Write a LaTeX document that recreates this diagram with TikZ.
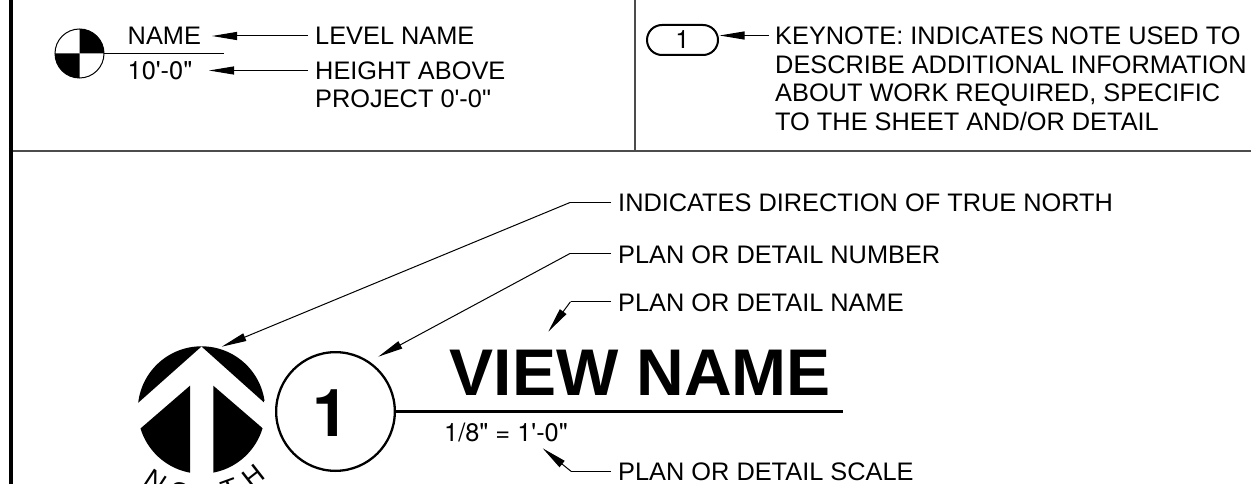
\documentclass[tikz,border=0pt]{standalone}
\usepackage{fontspec}
\setmainfont{Liberation Sans}[Ligatures=TeXOff]
\newfontfamily\heros{TeX Gyre Heros}[Ligatures=TeXOff]
\usetikzlibrary{arrows.meta}
\tikzset{
 lab/.style={anchor=base west,inner sep=0pt,font=\fontsize{25.35}{30}\selectfont},
 leader/.style={line width=1pt,-{Triangle[length=25pt,width=8pt]}},
 thinl/.style={line width=1pt},
 frame/.style={line width=2.2pt,draw=black!70},
}
\begin{document}
\begin{tikzpicture}[x=1pt,y=-1pt]
\useasboundingbox (0,0) rectangle (1251,484);
\clip (0,0) rectangle (1251,484);
\draw[frame] (11,151) -- (1251,151);
\draw[line width=3.2pt] (11,0) -- (11,484);
\draw[line width=1.4pt,draw=black!70] (635,0) -- (635,151);
% level marker
\coordinate (lc) at (79.5,53.5);
\fill (lc) -- ++(-24.5,0) arc (180:90:24.5) -- cycle;
\fill (lc) -- ++(24.5,0) arc (0:-90:24.5) -- cycle;
\draw[line width=1pt] (lc) circle (24.5);
\draw[line width=1pt] (104,53.5) -- (224,53.5);
\node[lab] (n1) at (127.5,45) {NAME};
\node[lab] (n2) at (127.5,80) {\heros 10'-0"};
\node[lab] (l1) at (315,45) {LEVEL NAME};
\node[lab] (l2) at (315,80) {HEIGHT ABOVE};
\node[lab] (l3) at (315,108) {PROJECT 0'-0"};
\coordinate (a1) at (212,36);
\coordinate (s1) at (308,36);
\coordinate (a2) at (209,70.5);
\coordinate (s2) at (308,70.5);
\draw[leader] (s1) -- (a1);
\draw[leader] (s2) -- (a2);
% keynote
\node[draw,line width=2pt,rounded corners=15pt,minimum width=71pt,minimum height=30pt,inner sep=0pt,font=\fontsize{25.35}{30}\selectfont\heros] (key) at (682.5,40) {1};
\node[lab] (k1) at (775,45) {KEYNOTE: INDICATES NOTE USED TO};
\node[lab] (k2) at (775,73.3) {DESCRIBE ADDITIONAL INFORMATION};
\node[lab] (k3) at (775,101.7) {ABOUT WORK REQUIRED, SPECIFIC};
\node[lab] (k4) at (775,130.5) {TO THE SHEET AND/OR DETAIL};
\coordinate (ks) at (769,35.5);
\coordinate (ke) at (719.5,35.5);
\draw[leader] (ks) -- (ke);
% labels below
\node[lab] (t1) at (618,211.5) {INDICATES DIRECTION OF TRUE NORTH};
\node[lab] (t2) at (618,263) {PLAN OR DETAIL NUMBER};
\node[lab] (t3) at (618,311) {PLAN OR DETAIL NAME};
\node[lab] (t4) at (618,480) {PLAN OR DETAIL SCALE};
% north symbol
\coordinate (nc) at (201.5,410);
\begin{scope}
\clip (nc) circle (63.7);
\fill (138.3,402.7) -- (201.5,346.5) -- (264.3,402.7) -- (290,330) -- (110,330) -- cycle;
\fill (190,385.7) -- (190,480) -- (120,480) -- (120,428.3) -- (140.7,428.3) -- cycle;
\fill (213.3,385.7) -- (213.3,480) -- (282,480) -- (282,428.3) -- (262.7,428.3) -- cycle;
\end{scope}
\coordinate (nt) at (221.7,346.7);
\coordinate (dt) at (378.3,356.7);
\coordinate (b1) at (570,202.5);
\coordinate (e1) at (611,202.5);
\coordinate (b2) at (570,253.5);
\coordinate (e2) at (611,253.5);
\coordinate (b3) at (570.5,301.7);
\coordinate (e3) at (611,301.7);
\coordinate (b4) at (571,471.3);
\coordinate (e4) at (611,471.3);
\coordinate (pa) at (548.3,331.7);
\coordinate (pb) at (542.7,448.3);
\draw[thinl] (e1) -- (b1);
\draw[leader] (b1) -- (nt);
\draw[thinl] (e2) -- (b2);
\draw[leader] (b2) -- (dt);
\node[draw,circle,line width=2.3pt,minimum size=118.7pt,inner sep=0pt] (num) at (335.5,411.5) {};
\node[anchor=base,inner sep=0pt,font=\bfseries\fontsize{66}{70}\selectfont\heros] (numt) at (331,436.7) {1};
\coordinate (ve) at (842.7,411.3);
\draw[line width=3pt] (num.east|-ve) -- (ve);
\node[lab,font=\bfseries\fontsize{66}{70}\selectfont] (vn) at (449.5,395) {VIEW NAME};
\node[lab] (sc) at (444,441) {\heros 1/8" = 1'-0"};
\draw[thinl] (e3) -- (b3);
\draw[leader] (b3) -- (pa);
\draw[thinl] (e4) -- (b4);
\draw[leader] (b4) -- (pb);
% NORTH on arc
\foreach \ch/\ang [count=\i] in {N/-33,O/-15,R/0,T/20,H/38}{
 \node[anchor=north,inner sep=0pt,font=\fontsize{27}{27}\selectfont,rotate=\ang] (north\i) at ({201.5+75*sin(\ang)},{410+75*cos(\ang)}) {\ch};
}
\end{tikzpicture}
\end{document}
